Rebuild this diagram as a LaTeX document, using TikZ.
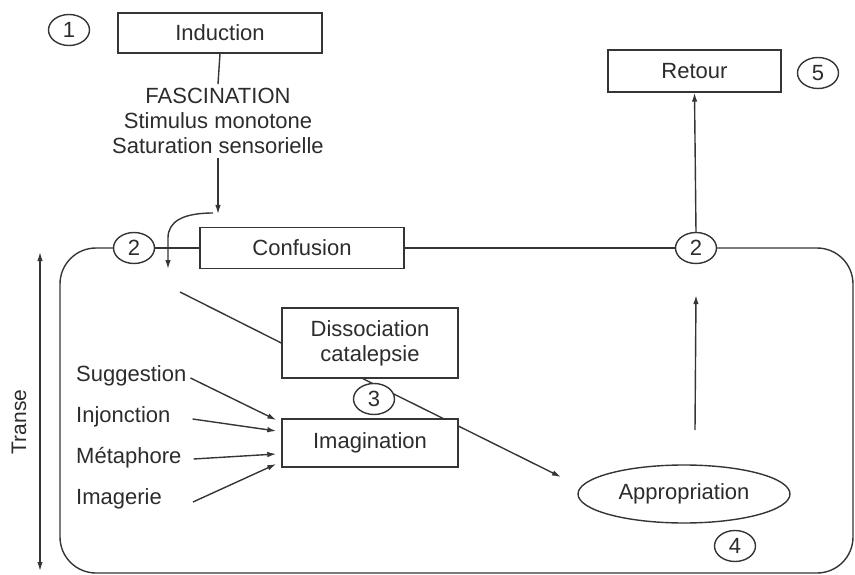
\documentclass[tikz,border=0pt]{standalone}
\usepackage{fontspec}
\setmainfont{Liberation Sans}
\usetikzlibrary{arrows.meta,shapes.geometric,calc}
\definecolor{lc}{HTML}{353535}
\definecolor{tc}{HTML}{2C2C2C}
\begin{document}
\begin{tikzpicture}[x=1pt,y=-1pt,
  every node/.style={text=tc,font=\fontsize{22}{25}\selectfont},
  ln/.style={draw=lc,line width=1.4pt},
  arr/.style={ln,-{Latex[length=9pt,width=5.5pt]}},
  box/.style={ln,fill=white,rectangle,inner sep=0pt,align=center},
  num/.style={ln,fill=white,ellipse,inner sep=0pt,minimum width=41pt,minimum height=31pt},
  lbl/.style={anchor=west,inner sep=0pt}]
\useasboundingbox (0,0) rectangle (855,575);
% nodes
\node[num] (c1) at (69,30) {1};
\node[box,minimum width=204pt,minimum height=40pt] (ind) at (220,33) {Induction};
\node[align=center,inner sep=0pt] (fasc) at (218,121) {FASCINATION\\Stimulus monotone\\Saturation sensorielle};
\node[box,minimum width=173pt,minimum height=42pt] (ret) at (694.5,71) {Retour};
\node[num] (c5) at (818,73) {5};
% connectors top
\draw[ln] (ind.south) -- ($(fasc.north)+(0,-4)$);
\coordinate (ca) at (218,214);
\draw[arr] ($(fasc.south)+(0,4)$) -- (ca);
\coordinate (cb) at (213,213);
\coordinate (cc) at (168,269);
% frame
\node[num] (c2l) at (134,248) {2};
\node[box,minimum width=204pt,minimum height=41pt] (conf) at (302,248) {Confusion};
\node[num] (c2r) at (696,248) {2};
\draw[ln,rounded corners=36pt] (c2r.east) -- (853,248) -- (853,573) -- (60,573) -- (60,248) -- (c2l.west);
\draw[ln] (c2l.east) -- (conf.west);
\draw[ln] (conf.east) -- (c2r.west);
\draw[arr] (cb) .. controls (182,213) and (168,222) .. (168,238) -- (cc);
% transe
\coordinate (tt) at (40,252);
\coordinate (tb) at (40,571);
\draw[ln,{Latex[length=9pt,width=5.5pt]}-{Latex[length=9pt,width=5.5pt]}] (tt) -- (tb);
\node[rotate=90,font=\fontsize{21}{24}\selectfont] (transe) at (19,422) {Transe};
% inner
\coordinate (dl) at (180,292);
\coordinate (a3) at (561,477);
\node[box,minimum width=176pt,minimum height=70pt] (dis) at (370,343) {Dissociation\\catalepsie};
\draw[ln] (dl) -- (dis.west);
\draw[arr] ($(dis.south)+(-7,0)$) -- (a3);
\node[box,minimum width=176pt,minimum height=48pt] (img) at (370,443) {Imagination};
\node[num] (c3) at (374,399) {3};
\node[ln,ellipse,minimum width=212pt,minimum height=58pt,inner sep=0pt] (app) at (684,494) {Appropriation};
\node[num] (c4) at (735,546) {4};
\coordinate (ua) at (695,430);
\draw[arr] (ua) -- ($(c2r.south)+(0,31)$);
\draw[arr] (c2r.north) -- (ret.south);
% left labels
\node[lbl] (sug) at (76,376) {Suggestion};
\node[lbl] (inj) at (76,417) {Injonction};
\node[lbl] (met) at (76,458) {Métaphore};
\node[lbl] (ima) at (76,499) {Imagerie};
\draw[arr] ($(sug.east)+(4,2)$) -- ($(img.west)+(-5,-23)$);
\draw[arr] ($(inj.east)+(22,2)$) -- ($(img.west)+(-5,-12)$);
\draw[arr] ($(met.east)+(12,1)$) -- ($(img.west)+(-5,11)$);
\draw[arr] ($(ima.east)+(31,3)$) -- ($(img.west)+(-5,21)$);
\end{tikzpicture}
\end{document}
